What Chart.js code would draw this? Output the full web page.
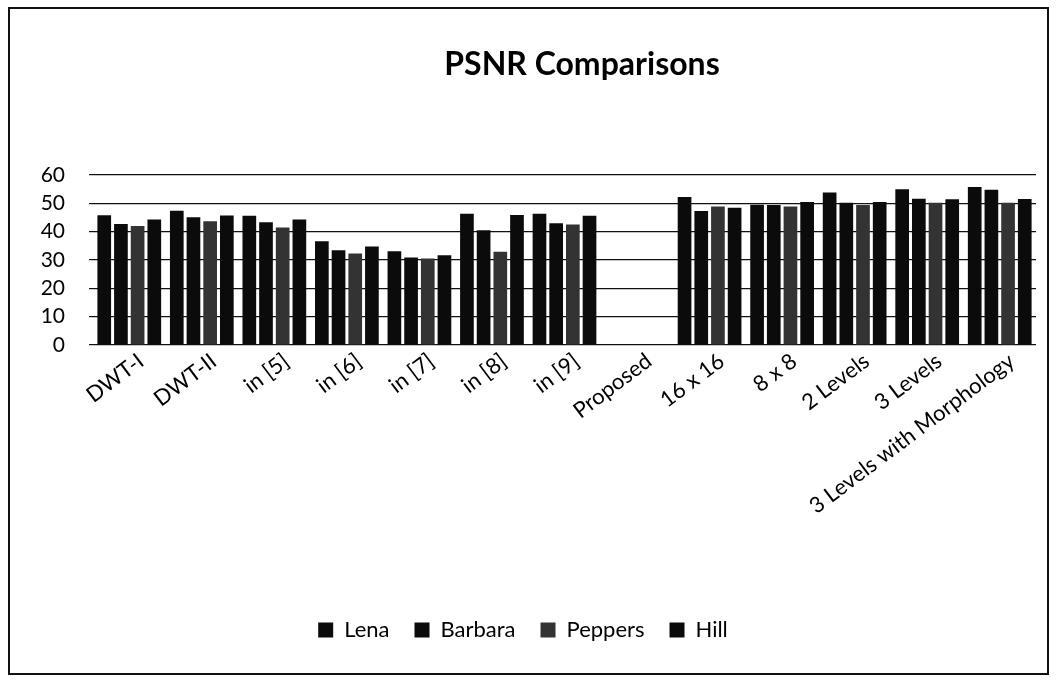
<!DOCTYPE html>
<html>
<head>
<meta charset="utf-8">
<script src="https://cdn.jsdelivr.net/npm/chart.js@4.4.0/dist/chart.umd.min.js"></script>
<style>
    html, body { margin: 0; padding: 0; background: #fff; }
    #wrap { position: relative; width: 1056px; height: 681px; }
    #frame {
        position: absolute; left: 8px; top: 7px; width: 1041px; height: 668px;
        box-sizing: border-box; border: 2px solid #111; pointer-events: none;
    }
    #psnrChart { position: absolute; left: 0; top: 0; }
</style>
</head>
<body>
<div id="wrap">
    <canvas id="psnrChart" width="1056" height="681"></canvas>
    <div id="frame"></div>
</div>
<script>
// categories on the x axis
const categories = ['DWT-I', 'DWT-II', 'in [5]', 'in [6]', 'in [7]', 'in [8]', 'in [9]', 'Proposed',
    '16 x 16', '8 x 8', '2 Levels', '3 Levels', '3 Levels with Morphology'];

// PSNR values per image (Proposed has no bars)
const lena    = [45.8, 47.4, 45.6, 36.6, 33.1, 46.3, 46.3, null, 52.2, 49.5, 53.8, 55.0, 55.8];
const barbara = [42.7, 45.1, 43.3, 33.4, 30.9, 40.5, 43.0, null, 47.3, 49.4, 50.2, 51.6, 54.8];
const peppers = [42.0, 43.7, 41.5, 32.3, 30.5, 32.9, 42.5, null, 48.9, 48.9, 49.4, 50.2, 50.2];
const hill    = [44.3, 45.7, 44.3, 34.8, 31.7, 45.9, 45.6, null, 48.4, 50.5, 50.5, 51.4, 51.5];

// y axis ticks
const yTicks = [0, 10, 20, 30, 40, 50, 60];

const FONT = 'Lato, "Open Sans", sans-serif';
const TITLE = 'PSNR Comparisons';

const makeSet = (label, data, color) => ({
    label: label,
    data: data,
    backgroundColor: color,
    borderWidth: 0,
    categoryPercentage: 0.92,
    barPercentage: 0.82
});

// the title sits a bit right of centre in the original, so draw it ourselves
const titlePlugin = {
    id: 'offsetTitle',
    afterDraw: (chart) => {
        const c = chart.ctx;
        c.save();
        c.fillStyle = '#000';
        c.font = 'bold 32px ' + FONT;
        c.textAlign = 'center';
        c.textBaseline = 'middle';
        c.fillText(TITLE, 582, 65);
        c.restore();
    }
};

var ctx = document.getElementById('psnrChart').getContext('2d');

var psnrChart = new Chart(ctx, {
    type: 'bar',
    data: {
        labels: categories,
        datasets: [
            makeSet('Lena', lena, '#0b0b0b'),
            makeSet('Barbara', barbara, '#0b0b0b'),
            makeSet('Peppers', peppers, '#333333'),
            makeSet('Hill', hill, '#0b0b0b')
        ]
    },
    plugins: [titlePlugin],
    options: {
        responsive: false,
        animation: false,
        layout: {
            padding: { top: 175, left: 10, right: 20, bottom: 30 }
        },
        plugins: {
            title: { display: false },
            legend: {
                position: 'bottom',
                labels: {
                    color: '#000',
                    font: { family: FONT, size: 22 },
                    boxWidth: 15,
                    boxHeight: 15,
                    padding: 25
                }
            },
            tooltip: { enabled: false }
        },
        scales: {
            x: {
                grid: { display: false },
                border: { display: false },
                ticks: {
                    color: '#000',
                    font: { family: FONT, size: 22 },
                    autoSkip: false,
                    minRotation: 37,
                    maxRotation: 37,
                    padding: -5,
                    labelOffset: 12
                },
                // fixed height so the plot bottom sits where the original is
                afterFit: (scale) => { scale.height = 249; }
            },
            y: {
                min: 0,
                max: 60,
                border: { display: false },
                grid: {
                    color: '#111',
                    lineWidth: 1.2,
                    tickLength: 4
                },
                ticks: {
                    color: '#000',
                    font: { family: FONT, size: 21 },
                    padding: 24,
                    stepSize: 10,
                    autoSkip: false,
                    callback: (v) => yTicks.indexOf(v) > -1 ? v : ''
                },
                afterFit: (scale) => { scale.width = 83; }
            }
        }
    }
});
</script>
</body>
</html>
